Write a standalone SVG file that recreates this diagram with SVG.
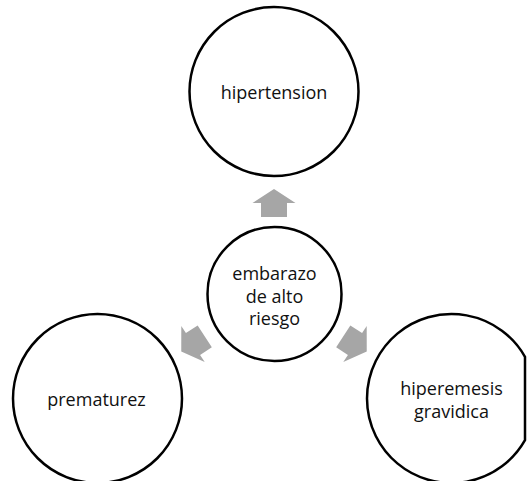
<svg xmlns="http://www.w3.org/2000/svg" width="527" height="481" viewBox="0 0 527 481">
<defs>
<style>
.node{fill:#ffffff;stroke:#000000;stroke-width:2.5}
.lbl{font-family:"Open Sans","Noto Sans","Liberation Sans",sans-serif;font-size:18px;fill:#111111;text-anchor:middle}
.arr{fill:#a6a6a6;stroke:none}
</style>
<path id="arrow" d="M0,-14 L21.5,0 L13,0 L13,14 L-13,14 L-13,0 L-21.5,0 Z"/>
</defs>
<rect width="527" height="481" fill="#ffffff"/>
<g id="connectors">
<use href="#arrow" class="arr" transform="translate(274,203)"/>
<use href="#arrow" class="arr" transform="translate(193,344) rotate(-123)"/>
<use href="#arrow" class="arr" transform="translate(355,344) rotate(123)"/>
</g>
<g id="node-hipertension">
<circle class="node" cx="274" cy="91.5" r="84.5"/>
<text class="lbl" x="274" y="99">hipertension</text>
</g>
<g id="node-embarazo">
<circle class="node" cx="274.5" cy="294" r="67"/>
<text class="lbl" x="274.5" y="280">embarazo</text>
<text class="lbl" x="274.5" y="303">de alto</text>
<text class="lbl" x="274.5" y="325">riesgo</text>
</g>
<g id="node-prematurez">
<circle class="node" cx="97.5" cy="398.5" r="84.5"/>
<text class="lbl" x="96.5" y="406">prematurez</text>
</g>
<g id="node-hiperemesis">
<path class="node" d="M525,356.8 A84.5,84.5 0 1 0 525,440.2 Z"/>
<text class="lbl" x="451.5" y="395">hiperemesis</text>
<text class="lbl" x="451.5" y="418">gravidica</text>
</g>
</svg>
